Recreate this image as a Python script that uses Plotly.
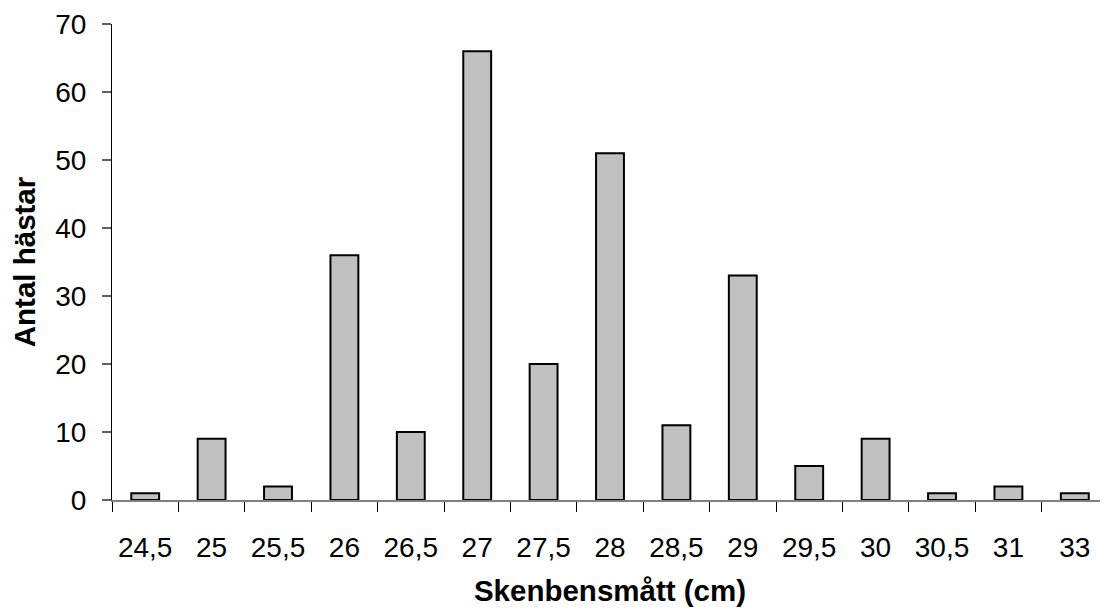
import plotly.graph_objects as go

categories = ["24,5", "25", "25,5", "26", "26,5", "27", "27,5", "28", "28,5", "29", "29,5", "30", "30,5", "31", "33"]
counts = [1, 9, 2, 36, 10, 66, 20, 51, 11, 33, 5, 9, 1, 2, 1]
y_ticks = [0, 10, 20, 30, 40, 50, 60, 70]

fig = go.Figure(go.Bar(
    x=categories, y=counts,
    marker=dict(color="#C0C0C0", line=dict(color="#000000", width=2)),
))

font = "Liberation Sans, Arial, sans-serif"
fig.update_layout(
    width=1100, height=606,
    margin=dict(l=104, r=0, t=16, b=114),
    paper_bgcolor="white", plot_bgcolor="white",
    bargap=0.58, showlegend=False,
    font=dict(family=font, size=28, color="black"),
)
fig.update_xaxes(
    type="category",
    showline=True, linecolor="#808080", linewidth=1.5,
    ticks="outside", tickson="boundaries", ticklen=10, tickcolor="black", tickwidth=1,
    showgrid=False, ticklabelstandoff=22,
    tickfont=dict(size=28),
    title=dict(text="<b>Skenbensmått (cm)</b>", font=dict(size=29.5), standoff=18),
)
fig.update_yaxes(
    range=[0, 70], tickvals=y_ticks,
    showline=True, linecolor="#000000", linewidth=1,
    ticks="outside", ticklen=9, tickcolor="#606060", tickwidth=1.5,
    showgrid=False, zeroline=False, ticklabelstandoff=10,
    tickfont=dict(size=28),
    title=dict(text="<b>Antal hästar</b>", font=dict(size=29.5), standoff=22),
)
fig.write_html("out.html")
